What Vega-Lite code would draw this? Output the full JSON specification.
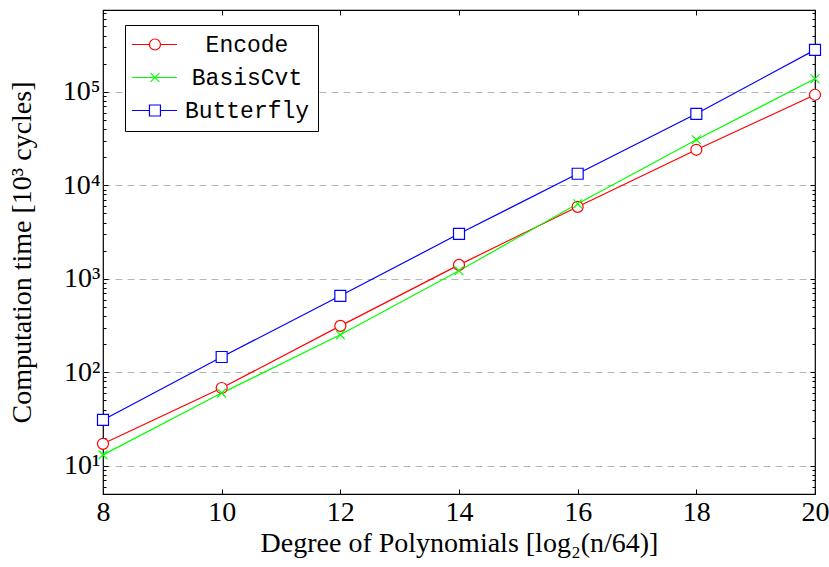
{
  "$schema": "https://vega.github.io/schema/vega-lite/v6.json",
  "width": 712,
  "height": 484,
  "autosize": {"type": "none"},
  "padding": {"left": 103, "top": 10, "right": 14, "bottom": 73},
  "background": "white",
  "config": {
    "view": {"stroke": "black", "strokeWidth": 1.2},
    "font": "Liberation Serif",
    "legend": {
      "title": null,
      "orient": "none",
      "legendX": 22,
      "legendY": 15,
      "strokeColor": "black",
      "fillColor": "white",
      "cornerRadius": 0,
      "padding": 8,
      "labelFont": "Liberation Mono",
      "labelFontSize": 23,
      "labelColor": "black",
      "labelAlign": "center",
      "labelOffset": 91,
      "symbolSize": 121,
      "symbolStrokeWidth": 1.2,
      "symbolOpacity": 1,
      "rowPadding": 9
    }
  },
  "data": {
    "values": [
      {"x": 8, "y": 17.2, "series": "Encode"},
      {"x": 10, "y": 68, "series": "Encode"},
      {"x": 12, "y": 314, "series": "Encode"},
      {"x": 14, "y": 1410, "series": "Encode"},
      {"x": 16, "y": 5890, "series": "Encode"},
      {"x": 18, "y": 24000, "series": "Encode"},
      {"x": 20, "y": 93000, "series": "Encode"},
      {"x": 8, "y": 13.1, "series": "BasisCvt"},
      {"x": 10, "y": 60, "series": "BasisCvt"},
      {"x": 12, "y": 252, "series": "BasisCvt"},
      {"x": 14, "y": 1220, "series": "BasisCvt"},
      {"x": 16, "y": 6340, "series": "BasisCvt"},
      {"x": 18, "y": 30700, "series": "BasisCvt"},
      {"x": 20, "y": 138000, "series": "BasisCvt"},
      {"x": 8, "y": 31, "series": "Butterfly"},
      {"x": 10, "y": 146, "series": "Butterfly"},
      {"x": 12, "y": 658, "series": "Butterfly"},
      {"x": 14, "y": 3030, "series": "Butterfly"},
      {"x": 16, "y": 13300, "series": "Butterfly"},
      {"x": 18, "y": 58200, "series": "Butterfly"},
      {"x": 20, "y": 281000, "series": "Butterfly"}
    ]
  },
  "layer": [
    {
      "transform": [{"filter": "datum.series === 'Encode'"}],
      "mark": {"type": "line", "strokeWidth": 1.2, "stroke": "#ff0000"},
      "encoding": {
        "x": {
          "field": "x", "type": "quantitative",
          "scale": {"domain": [8, 20], "nice": false, "zero": false},
          "axis": {
            "title": "Degree of Polynomials [log₂(n/64)]",
            "values": [8, 10, 12, 14, 16, 18, 20],
            "grid": false, "domain": false,
            "tickSize": -5, "tickColor": "black", "tickWidth": 1,
            "labelFont": "Liberation Serif", "labelFontSize": 28, "labelColor": "black",
            "labelPadding": 9, "labelFlush": false, "labelOverlap": false,
            "titleFont": "Liberation Serif", "titleFontSize": 28, "titleFontWeight": "normal",
            "titleColor": "black", "titlePadding": 3
          }
        },
        "y": {
          "field": "y", "type": "quantitative",
          "scale": {"type": "log", "domain": [5, 750000], "nice": false},
          "axis": {
            "title": "Computation time [10³ cycles]",
            "values": [5,6,7,8,9,10,20,30,40,50,60,70,80,90,100,200,300,400,500,600,700,800,900,1000,2000,3000,4000,5000,6000,7000,8000,9000,10000,20000,30000,40000,50000,60000,70000,80000,90000,100000,200000,300000,400000,500000,600000,700000],
            "labelExpr": "abs(log(datum.value)/LN10 - round(log(datum.value)/LN10)) < 0.0001 ? '10' + ['⁰','¹','²','³','⁴','⁵','⁶'][round(log(datum.value)/LN10)] : ''",
            "grid": true,
            "gridColor": "#b5b5b5",
            "gridDash": [7, 5],
            "gridWidth": 1,
            "gridOpacity": {"condition": {"test": "abs(log(datum.value)/LN10 - round(log(datum.value)/LN10)) < 0.0001", "value": 1}, "value": 0},
            "tickSize": {"condition": {"test": "abs(log(datum.value)/LN10 - round(log(datum.value)/LN10)) < 0.0001", "value": -5}, "value": -3},
            "tickColor": "black", "tickWidth": 1,
            "domain": false,
            "labelFont": "Liberation Serif", "labelFontSize": 28, "labelColor": "black",
            "labelPadding": 8, "labelOverlap": false, "labelFlush": false,
            "titleFont": "Liberation Serif", "titleFontSize": 28, "titleFontWeight": "normal",
            "titleColor": "black", "titlePadding": 26
          }
        }
      }
    },
    {
      "transform": [{"filter": "datum.series === 'BasisCvt'"}],
      "mark": {"type": "line", "strokeWidth": 1.2, "stroke": "#00ff00"},
      "encoding": {
        "x": {"field": "x", "type": "quantitative", "axis": null},
        "y": {"field": "y", "type": "quantitative", "axis": null}
      }
    },
    {
      "transform": [{"filter": "datum.series === 'Butterfly'"}],
      "mark": {"type": "line", "strokeWidth": 1.2, "stroke": "#0000ff"},
      "encoding": {
        "x": {"field": "x", "type": "quantitative", "axis": null},
        "y": {"field": "y", "type": "quantitative", "axis": null}
      }
    },
    {
      "transform": [{"filter": "datum.series === 'Encode'"}],
      "mark": {"type": "point", "filled": true, "fill": "white", "stroke": "#ff0000", "strokeWidth": 1.2, "size": 121, "opacity": 1, "shape": "M1,0A1,1 0 1,1 -1,0A1,1 0 1,1 1,0Z"},
      "encoding": {
        "x": {"field": "x", "type": "quantitative", "axis": null},
        "y": {"field": "y", "type": "quantitative", "axis": null}
      }
    },
    {
      "transform": [{"filter": "datum.series === 'BasisCvt'"}],
      "mark": {"type": "point", "filled": true, "fill": "white", "stroke": "#00ff00", "strokeWidth": 1.2, "size": 121, "opacity": 1, "shape": "M-0.8,-0.8L0.8,0.8M-0.8,0.8L0.8,-0.8"},
      "encoding": {
        "x": {"field": "x", "type": "quantitative", "axis": null},
        "y": {"field": "y", "type": "quantitative", "axis": null}
      }
    },
    {
      "transform": [{"filter": "datum.series === 'Butterfly'"}],
      "mark": {"type": "point", "filled": true, "fill": "white", "stroke": "#0000ff", "strokeWidth": 1.2, "size": 121, "opacity": 1, "shape": "M-1,-1H1V1H-1Z"},
      "encoding": {
        "x": {"field": "x", "type": "quantitative", "axis": null},
        "y": {"field": "y", "type": "quantitative", "axis": null}
      }
    },
    {
      "mark": {"type": "point", "opacity": 0, "filled": false, "size": 121},
      "encoding": {
        "x": {
          "field": "x", "type": "quantitative",
          "axis": {"orient": "top", "title": null, "labels": false, "domain": false, "grid": false,
                   "values": [8, 10, 12, 14, 16, 18, 20], "tickSize": -5, "tickColor": "black", "tickWidth": 1}
        },
        "y": {
          "field": "y", "type": "quantitative",
          "axis": {
            "orient": "right", "title": null, "labels": false, "domain": false, "grid": false,
            "values": [5,6,7,8,9,10,20,30,40,50,60,70,80,90,100,200,300,400,500,600,700,800,900,1000,2000,3000,4000,5000,6000,7000,8000,9000,10000,20000,30000,40000,50000,60000,70000,80000,90000,100000,200000,300000,400000,500000,600000,700000],
            "tickSize": {"condition": {"test": "abs(log(datum.value)/LN10 - round(log(datum.value)/LN10)) < 0.0001", "value": -5}, "value": -3},
            "tickColor": "black", "tickWidth": 1
          }
        },
        "stroke": {
          "field": "series", "type": "nominal",
          "scale": {"domain": ["Encode", "BasisCvt", "Butterfly"], "range": ["#ff0000", "#00ff00", "#0000ff"]},
          "legend": {"title": null}
        },
        "shape": {
          "field": "series", "type": "nominal",
          "scale": {"domain": ["Encode", "BasisCvt", "Butterfly"], "range": ["M-2.3,0H0.9M2.9,0H5.9M2.9,0A1,1 0 1,1 0.9,0A1,1 0 1,1 2.9,0Z", "M-2.3,0H5.9M1.1,-0.8L2.7,0.8M1.1,0.8L2.7,-0.8", "M-2.3,0H0.9M2.9,0H5.9M0.9,-1H2.9V1H0.9Z"]},
          "legend": {"title": null}
        }
      }
    }
  ],
  "resolve": {"axis": {"x": "independent", "y": "independent"}}
}
